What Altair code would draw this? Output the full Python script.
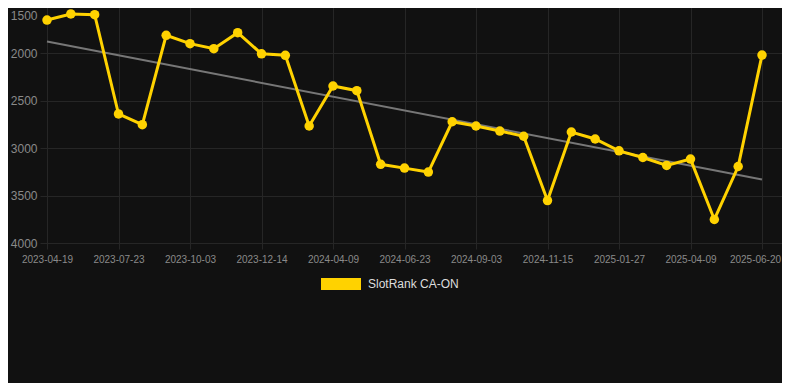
import json
import altair as alt
import pandas as pd

dates = [
    "2023-04-19", "2023-05-20", "2023-06-21", "2023-07-23", "2023-08-16", "2023-09-09",
    "2023-10-03", "2023-10-27", "2023-11-20", "2023-12-14", "2024-01-22", "2024-03-01",
    "2024-04-09", "2024-05-04", "2024-05-29", "2024-06-23", "2024-07-17", "2024-08-10",
    "2024-09-03", "2024-09-27", "2024-10-21", "2024-11-15", "2024-12-09", "2025-01-03",
    "2025-01-27", "2025-02-20", "2025-03-16", "2025-04-09", "2025-05-03", "2025-05-27",
    "2025-06-20",
]
ranks = [
    1648, 1584, 1592, 2639, 2752, 1809, 1897, 1950, 1781, 2004, 2020, 2766,
    2344, 2393, 3170, 3210, 3252, 2721, 2766, 2819, 2874, 3552, 2829, 2903,
    3028, 3098, 3182, 3115, 3752, 3193, 2018,
]
series_name = "SlotRank CA-ON"
y_ticks = [1500, 2000, 2500, 3000, 3500, 4000]
x_ticks = list(range(0, 31, 3))

df = pd.DataFrame({
    "idx": list(range(len(dates))),
    "date": dates,
    "rank": ranks,
    "series": [series_name] * len(dates),
})

label_expr = json.dumps(dates) + "[datum.value]"

x_enc = alt.X(
    "idx:Q",
    scale=alt.Scale(domain=[-0.2937, 30.839], nice=False, zero=False),
    axis=alt.Axis(
        values=x_ticks,
        labelExpr=label_expr,
        title=None,
        labelOffset={"condition": {"test": "datum.value == 30", "value": -7}, "value": 0},
    ),
)
y_enc = alt.Y(
    "rank:Q",
    scale=alt.Scale(domain=[1500, 4000], reverse=True, nice=False, zero=False),
    axis=alt.Axis(
        values=y_ticks,
        format="d",
        title=None,
        labelOffset={"condition": {"test": "datum.value == 1500", "value": 9}, "value": 0},
    ),
)

color_enc = alt.Color(
    "series:N",
    scale=alt.Scale(domain=[series_name], range=["#FFD200"]),
    legend=alt.Legend(
        title=None,
        orient="none",
        legendX=281,
        legendY=258,
        symbolType="M-1,-0.3L1,-0.3L1,0.3L-1,0.3Z",
        symbolSize=1600,
        symbolFillColor="#FFD200",
        symbolStrokeColor="#FFD200",
        symbolStrokeWidth=0,
        symbolOpacity=1,
        labelColor="#dddddd",
        labelFontSize=12,
        labelOffset=7,
    ),
)

base = alt.Chart(df)

trend = base.transform_regression("idx", "rank").mark_line(
    color="#777777", strokeWidth=2
).encode(x=x_enc, y=y_enc)

line = base.mark_line(strokeWidth=3).encode(x=x_enc, y=y_enc, color=color_enc)
points = base.mark_circle(size=90, opacity=1).encode(x=x_enc, y=y_enc, color=color_enc)

chart = (
    alt.layer(trend, line, points)
    .properties(
        width=742,
        height=237,
        autosize=alt.AutoSizeParams(type="none"),
        padding={"left": 32, "top": -2, "right": 0, "bottom": 140},
        background="#111111",
    )
    .configure(font="Liberation Sans")
    .configure_view(stroke=None)
    .configure_axis(
        grid=True,
        gridColor="#262626",
        gridWidth=1,
        domain=False,
        labelColor="#8a8a8a",
    )
    .configure_axisY(ticks=False, labelFontSize=12, labelPadding=3)
    .configure_axisX(ticks=True, tickColor="#262626", tickSize=6, labelFontSize=10, labelPadding=5)
)

chart.save("out.html", embed_options={"renderer": "svg", "actions": False})
